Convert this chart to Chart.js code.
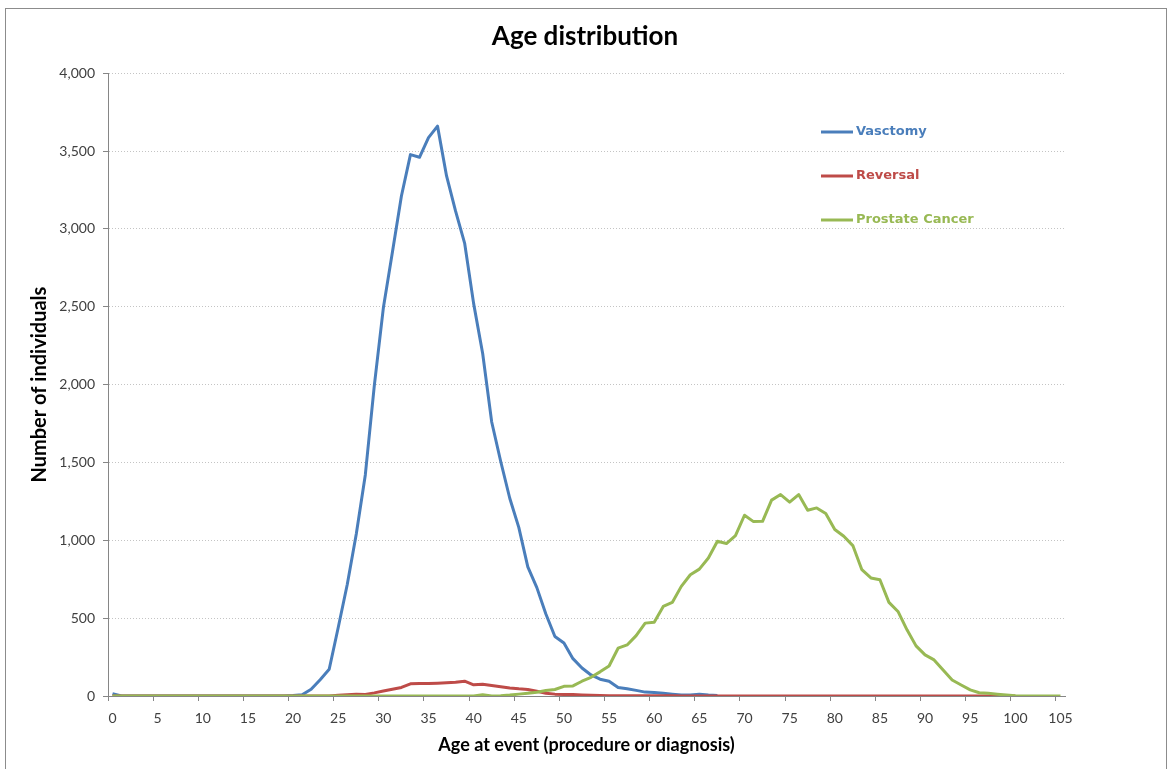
<!DOCTYPE html>
<html>
<head>
<meta charset="utf-8">
<script src="https://cdn.jsdelivr.net/npm/chart.js@4.4.0/dist/chart.umd.min.js"></script>
<style>
  html, body { margin: 0; padding: 0; background: #fff; }
  #wrap { width: 1170px; height: 769px; }
</style>
</head>
<body>
<div id="wrap"><canvas id="ageChart" width="1170" height="769"></canvas></div>
<script>
// Ages 0..105, one category per year
const ages = [];
for (let a = 0; a <= 105; a++) ages.push(String(a));

// Number of individuals per age
const vasectomy = [
  15, 0, 0, 0, 0, 0, 0, 0, 0, 0,
  0, 0, 0, 0, 0, 0, 0, 0, 0, 0,
  3, 8, 43, 105, 172, 440, 716, 1040, 1420, 1995,
  2493, 2850, 3211, 3477, 3460, 3586, 3660, 3340, 3114, 2909,
  2520, 2200, 1760, 1506, 1270, 1083, 829, 696, 527, 382,
  340, 240, 180, 135, 108, 95, 55, 47, 36, 25,
  22, 17, 11, 6, 6, 12, 6, 3, null, null,
  null, null, null, null, null, null, null, null, null, null,
  null, null, null, null, null, null, null, null, null, null,
  null, null, null, null, null, null, null, null, null, null,
  null, null, null, null, null, null
];
const reversal = [
  0, 0, 0, 0, 0, 0, 0, 0, 0, 0,
  0, 0, 0, 0, 0, 0, 0, 0, 0, 0,
  0, 0, 0, 0, 0, 5, 8, 12, 10, 20,
  32, 43, 55, 78, 80, 80, 82, 85, 88, 95,
  72, 76, 68, 60, 52, 46, 42, 30, 18, 12,
  10, 9, 7, 5, 3, 2, 1, 1, 1, 1,
  1, 1, 1, 0, 0, 0, 0, 0, 0, 0,
  0, 0, 0, 0, 0, 0, 0, 0, 0, 0,
  0, 0, 0, 0, 0, 0, 0, 0, 0, 0,
  0, 0, 0, 0, 0, 0, 0, 0, 0, 0,
  0, null, null, null, null, null
];
const prostate = [
  0, 0, 0, 0, 0, 0, 0, 0, 0, 0,
  0, 0, 0, 0, 0, 0, 0, 0, 0, 0,
  0, 0, 0, 0, 0, 0, 0, 0, 0, 0,
  0, 0, 0, 0, 0, 0, 0, 0, 0, 0,
  0, 8, 0, 2, 6, 12, 18, 24, 35, 42,
  62, 65, 95, 120, 155, 193, 307, 328, 388, 468,
  474, 575, 601, 704, 779, 815, 886, 994, 979, 1030,
  1161, 1120, 1122, 1258, 1294, 1245, 1294, 1193, 1208, 1172,
  1069, 1026, 966, 811, 758, 747, 601, 543, 425, 322,
  264, 232, 167, 103, 71, 39, 21, 17, 11, 6,
  2, 0, 0, 0, 0, 0
];

const seriesNames = ['Vasctomy', 'Reversal', 'Prostate Cancer'];
const seriesColors = ['#4A7EBB', '#BE4B48', '#98B954'];

// Legend drawn inside the plot, text in the series colour
const insideLegend = {
  id: 'insideLegend',
  afterDraw(chart) {
    const ctx = chart.ctx;
    ctx.save();
    ctx.font = 'bold 13px "DejaVu Sans"';
    ctx.textBaseline = 'middle';
    chart.data.datasets.forEach((ds, i) => {
      const y = 132 + i * 44;
      ctx.strokeStyle = ds.borderColor;
      ctx.lineWidth = 3;
      ctx.beginPath();
      ctx.moveTo(821, y);
      ctx.lineTo(853, y);
      ctx.stroke();
      ctx.fillStyle = ds.borderColor;
      ctx.fillText(ds.label, 856, y);
    });
    ctx.restore();
  }
};

// Thin frame around the whole chart
const frame = {
  id: 'frame',
  beforeDraw(chart) {
    const ctx = chart.ctx;
    ctx.save();
    ctx.fillStyle = '#fff';
    ctx.fillRect(0, 0, chart.width, chart.height);
    ctx.strokeStyle = '#8c8c8c';
    ctx.lineWidth = 1;
    ctx.strokeRect(5.5, 8.5, 1161, 775);
    ctx.restore();
  }
};

const axisGray = '#868686';

new Chart('ageChart', {
  type: 'line',
  data: {
    labels: ages,
    datasets: [
      { label: seriesNames[0], data: vasectomy, borderColor: seriesColors[0], order: 3 },
      { label: seriesNames[1], data: reversal, borderColor: seriesColors[1], order: 2 },
      { label: seriesNames[2], data: prostate, borderColor: seriesColors[2], order: 1 }
    ]
  },
  options: {
    responsive: false,
    animation: false,
    devicePixelRatio: 1,
    spanGaps: false,
    elements: {
      line: { borderWidth: 3, tension: 0, borderJoinStyle: 'round' },
      point: { radius: 0 }
    },
    layout: { padding: { left: 0, right: 0, top: 21, bottom: 0 } },
    plugins: {
      legend: { display: false },
      tooltip: { enabled: false },
      title: {
        display: true,
        text: 'Age distribution',
        color: '#000',
        font: { family: 'Lato', size: 26, weight: 'bold' },
        padding: { top: 0, bottom: 21 }
      }
    },
    scales: {
      x: {
        type: 'category',
        offset: true,
        afterFit(s) { s.height = 73; },
        grid: {
          offset: true,
          drawOnChartArea: false,
          tickLength: 5,
          tickColor: (c) => (c.index % 5 === 0 || c.index === 106) ? axisGray : 'rgba(0,0,0,0)'
        },
        border: { display: true, color: axisGray, width: 1 },
        ticks: {
          autoSkip: false,
          maxRotation: 0,
          minRotation: 0,
          padding: 9,
          color: '#404040',
          font: { family: 'Lato', size: 14 },
          callback: (v, i) => (i % 5 === 0 ? ages[i] : '')
        },
        title: {
          display: true,
          text: 'Age at event (procedure or diagnosis)',
          color: '#000',
          font: { family: 'Lato', size: 18, weight: 'bold' },
          padding: { top: 0, bottom: 13 }
        }
      },
      y: {
        min: 0,
        max: 4000,
        afterFit(s) { s.width = 108; },
        grid: {
          color: (c) => (c.tick && c.tick.value === 0) ? 'rgba(0,0,0,0)' : '#c4c4c4',
          tickColor: axisGray,
          tickLength: 5
        },
        border: { display: true, color: axisGray, width: 1, dash: [1, 2] },
        ticks: {
          stepSize: 500,
          padding: 8,
          color: '#404040',
          font: { family: 'Lato', size: 14 },
          callback: (v) => Number(v).toLocaleString('en-US')
        },
        title: {
          display: true,
          text: 'Number of individuals',
          color: '#000',
          font: { family: 'Lato', size: 20, weight: 'bold' },
          padding: { top: 28, bottom: 0 }
        }
      },
      // empty right-hand axis that only reserves the margin right of the plot
      yRight: {
        position: 'right',
        display: true,
        afterFit(s) { s.width = 105; },
        grid: { display: false },
        border: { display: false },
        ticks: { display: false }
      }
    }
  },
  plugins: [frame, insideLegend]
});
</script>
</body>
</html>
